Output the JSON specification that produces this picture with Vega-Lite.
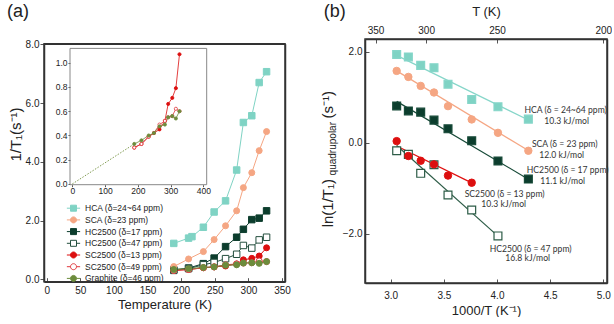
{
"$schema":"https://vega.github.io/schema/vega-lite/v6.json",
"padding":{"left":7,"top":2,"right":0,"bottom":0},
"spacing":30,
"config":{"font":"Liberation Sans","view":{"stroke":null},
"axis":{"grid":false,"domain":false,"domainColor":"#333","domainWidth":1.5,"labelFont":"Liberation Sans","labelFontSize":10,"labelColor":"#222","titleFont":"Liberation Sans","titleFontWeight":"normal","titleColor":"#222","tickColor":"#555"}},
"datasets":{
"a":[
{"s":"HCA (δ=24~64 ppm)","T":189,"v":1.22},{"s":"HCA (δ=24~64 ppm)","T":211,"v":1.40},{"s":"HCA (δ=24~64 ppm)","T":216,"v":1.45},{"s":"HCA (δ=24~64 ppm)","T":233,"v":1.77},{"s":"HCA (δ=24~64 ppm)","T":249,"v":2.29},{"s":"HCA (δ=24~64 ppm)","T":266,"v":2.67},{"s":"HCA (δ=24~64 ppm)","T":282.5,"v":3.72},{"s":"HCA (δ=24~64 ppm)","T":292.5,"v":5.34},{"s":"HCA (δ=24~64 ppm)","T":305,"v":5.57},{"s":"HCA (δ=24~64 ppm)","T":316,"v":6.70},{"s":"HCA (δ=24~64 ppm)","T":327,"v":7.07},
{"s":"SCA (δ=23 ppm)","T":189,"v":0.43},{"s":"SCA (δ=23 ppm)","T":211,"v":0.69},{"s":"SCA (δ=23 ppm)","T":233,"v":0.94},{"s":"SCA (δ=23 ppm)","T":249,"v":1.35},{"s":"SCA (δ=23 ppm)","T":266,"v":1.82},{"s":"SCA (δ=23 ppm)","T":282.5,"v":2.33},{"s":"SCA (δ=23 ppm)","T":292.5,"v":3.12},{"s":"SCA (δ=23 ppm)","T":305,"v":3.63},{"s":"SCA (δ=23 ppm)","T":316,"v":4.38},{"s":"SCA (δ=23 ppm)","T":327,"v":5.03},
{"s":"HC2500 (δ=17 ppm)","T":189,"v":0.32},{"s":"HC2500 (δ=17 ppm)","T":211,"v":0.38},{"s":"HC2500 (δ=17 ppm)","T":233,"v":0.53},{"s":"HC2500 (δ=17 ppm)","T":249,"v":0.72},{"s":"HC2500 (δ=17 ppm)","T":266,"v":1.11},{"s":"HC2500 (δ=17 ppm)","T":282.5,"v":1.43},{"s":"HC2500 (δ=17 ppm)","T":292.5,"v":1.70},{"s":"HC2500 (δ=17 ppm)","T":305,"v":2.03},{"s":"HC2500 (δ=17 ppm)","T":316,"v":2.08},{"s":"HC2500 (δ=17 ppm)","T":327,"v":2.33},
{"s":"HC2500 (δ=47 ppm)","T":189,"v":0.30},{"s":"HC2500 (δ=47 ppm)","T":211,"v":0.36},{"s":"HC2500 (δ=47 ppm)","T":233,"v":0.49},{"s":"HC2500 (δ=47 ppm)","T":249,"v":0.57},{"s":"HC2500 (δ=47 ppm)","T":266,"v":0.70},{"s":"HC2500 (δ=47 ppm)","T":282.5,"v":0.85},{"s":"HC2500 (δ=47 ppm)","T":292.5,"v":1.15},{"s":"HC2500 (δ=47 ppm)","T":305,"v":1.06},{"s":"HC2500 (δ=47 ppm)","T":316,"v":1.34},{"s":"HC2500 (δ=47 ppm)","T":327,"v":1.43},
{"s":"SC2500 (δ=13 ppm)","T":189,"v":0.30},{"s":"SC2500 (δ=13 ppm)","T":211,"v":0.33},{"s":"SC2500 (δ=13 ppm)","T":233,"v":0.39},{"s":"SC2500 (δ=13 ppm)","T":249,"v":0.42},{"s":"SC2500 (δ=13 ppm)","T":266,"v":0.45},{"s":"SC2500 (δ=13 ppm)","T":282.5,"v":0.52},{"s":"SC2500 (δ=13 ppm)","T":292.5,"v":0.66},{"s":"SC2500 (δ=13 ppm)","T":305,"v":0.71},{"s":"SC2500 (δ=13 ppm)","T":316,"v":0.79},{"s":"SC2500 (δ=13 ppm)","T":327,"v":1.07},
{"s":"SC2500 (δ=49 ppm)","T":189,"v":0.30},{"s":"SC2500 (δ=49 ppm)","T":211,"v":0.33},{"s":"SC2500 (δ=49 ppm)","T":233,"v":0.39},{"s":"SC2500 (δ=49 ppm)","T":249,"v":0.42},{"s":"SC2500 (δ=49 ppm)","T":266,"v":0.49},{"s":"SC2500 (δ=49 ppm)","T":282.5,"v":0.52},{"s":"SC2500 (δ=49 ppm)","T":292.5,"v":0.55},{"s":"SC2500 (δ=49 ppm)","T":305,"v":0.56},{"s":"SC2500 (δ=49 ppm)","T":316,"v":0.62},{"s":"SC2500 (δ=49 ppm)","T":327,"v":0.60},
{"s":"Graphite (δ=46 ppm)","T":189,"v":0.33},{"s":"Graphite (δ=46 ppm)","T":211,"v":0.36},{"s":"Graphite (δ=46 ppm)","T":233,"v":0.40},{"s":"Graphite (δ=46 ppm)","T":249,"v":0.42},{"s":"Graphite (δ=46 ppm)","T":266,"v":0.475},{"s":"Graphite (δ=46 ppm)","T":282.5,"v":0.49},{"s":"Graphite (δ=46 ppm)","T":292.5,"v":0.55},{"s":"Graphite (δ=46 ppm)","T":305,"v":0.56},{"s":"Graphite (δ=46 ppm)","T":316,"v":0.54},{"s":"Graphite (δ=46 ppm)","T":327,"v":0.60}
],
"b":[
{"s":"HCA","x":3.056,"y":1.94},{"s":"HCA","x":3.166,"y":1.886},{"s":"HCA","x":3.282,"y":1.70},{"s":"HCA","x":3.407,"y":1.65},{"s":"HCA","x":3.539,"y":1.287},{"s":"HCA","x":3.762,"y":0.95},{"s":"HCA","x":4.009,"y":0.79},{"s":"HCA","x":4.295,"y":0.52},
{"s":"SCA","x":3.056,"y":1.579},{"s":"SCA","x":3.166,"y":1.447},{"s":"SCA","x":3.282,"y":1.25},{"s":"SCA","x":3.407,"y":1.105},{"s":"SCA","x":3.539,"y":0.805},{"s":"SCA","x":3.762,"y":0.513},{"s":"SCA","x":4.009,"y":0.219},{"s":"SCA","x":4.295,"y":-0.175},
{"s":"HC2500 (17)","x":3.056,"y":0.81},{"s":"HC2500 (17)","x":3.166,"y":0.70},{"s":"HC2500 (17)","x":3.282,"y":0.673},{"s":"HC2500 (17)","x":3.407,"y":0.498},{"s":"HC2500 (17)","x":3.539,"y":0.307},{"s":"HC2500 (17)","x":3.762,"y":0.044},{"s":"HC2500 (17)","x":4.009,"y":-0.40},{"s":"HC2500 (17)","x":4.295,"y":-0.797},
{"s":"HC2500 (47)","x":3.056,"y":-0.175},{"s":"HC2500 (47)","x":3.166,"y":-0.254},{"s":"HC2500 (47)","x":3.282,"y":-0.671},{"s":"HC2500 (47)","x":3.407,"y":-0.482},{"s":"HC2500 (47)","x":3.539,"y":-1.147},{"s":"HC2500 (47)","x":3.762,"y":-1.476},{"s":"HC2500 (47)","x":4.009,"y":-2.046},
{"s":"SC2500 (13)","x":3.056,"y":0.037},{"s":"SC2500 (13)","x":3.166,"y":-0.29},{"s":"SC2500 (13)","x":3.282,"y":-0.395},{"s":"SC2500 (13)","x":3.407,"y":-0.474},{"s":"SC2500 (13)","x":3.539,"y":-0.72},{"s":"SC2500 (13)","x":3.762,"y":-0.877}
],
"bfit":[
{"s":"HCA","x":3.056,"y":1.92},{"s":"HCA","x":4.295,"y":0.50},
{"s":"SCA","x":3.056,"y":1.58},{"s":"SCA","x":4.295,"y":-0.17},
{"s":"HC2500 (17)","x":3.056,"y":0.91},{"s":"HC2500 (17)","x":4.295,"y":-0.80},
{"s":"SC2500 (13)","x":3.056,"y":-0.07},{"s":"SC2500 (13)","x":3.762,"y":-0.88},
{"s":"HC2500 (47)","x":3.056,"y":-0.06},{"s":"HC2500 (47)","x":4.009,"y":-2.05}
],
"bann":[
{"label":"HCA (δ = 24~64 ppm)","x":4.646,"y":0.730},{"label":"10.3 kJ/mol","x":4.655,"y":0.488},
{"label":"SCA (δ = 23 ppm)","x":4.637,"y":-0.023},{"label":"12.0 kJ/mol","x":4.609,"y":-0.264},
{"label":"HC2500 (δ = 17 ppm)","x":4.665,"y":-0.608},{"label":"11.1 kJ/mol","x":4.618,"y":-0.843},
{"label":"SC2500 (δ = 13 ppm)","x":4.072,"y":-1.119},{"label":"10.3 kJ/mol","x":4.063,"y":-1.354},
{"label":"HC2500 (δ = 47 ppm)","x":4.317,"y":-2.325},{"label":"16.8 kJ/mol","x":4.289,"y":-2.531}
]
},
"resolve":{"scale":{"fill":"independent","stroke":"independent","shape":"independent"},"legend":{"fill":"independent","stroke":"independent","shape":"independent"}},
"hconcat":[
{
"width":241,"height":242.7,
"resolve":{"scale":{"x":"independent","y":"independent"},"axis":{"x":"independent","y":"independent"}},
"layer":[
{
"data":{"name":"a"},
"encoding":{
"x":{"field":"T","type":"quantitative","scale":{"domain":[-4,354.4],"nice":false,"zero":false},"axis":{"orient":"bottom","domain":true,"values":[0,50,100,150,200,250,300,350],"format":"d","tickSize":-4,"labelPadding":8,"title":"Temperature (K)","titleFontSize":13,"titlePadding":3}},
"y":{"field":"v","type":"quantitative","scale":{"domain":[-0.085,8.024],"range":[242.7,4.7],"nice":false,"zero":false},"axis":{"orient":"left","domain":true,"values":[0,2,4,6,8],"format":".1f","tickSize":4,"labelPadding":1,"title":"1/T₁(s⁻¹)","titleFontSize":15,"titlePadding":2,"titleY":95}}
},
"layer":[
{"mark":{"type":"point","filled":true,"opacity":0,"strokeWidth":1},
"encoding":{
"shape":{"field":"s","type":"nominal","scale":{"domain":["HCA (δ=24~64 ppm)","SCA (δ=23 ppm)","HC2500 (δ=17 ppm)","HC2500 (δ=47 ppm)","SC2500 (δ=13 ppm)","SC2500 (δ=49 ppm)","Graphite (δ=46 ppm)"],"range":["M-1.66,0H-0.75M0.75,0H1.66M-0.75,-0.75H0.75V0.75H-0.75Z","M-1.66,0H-0.75M0.75,0H1.66M-0.75,0A0.75,0.75,0,1,1,0.75,0A0.75,0.75,0,1,1,-0.75,0Z","M-1.66,0H-0.75M0.75,0H1.66M-0.75,-0.75H0.75V0.75H-0.75Z","M-1.66,0H-0.75M0.75,0H1.66M-0.75,-0.75H0.75V0.75H-0.75Z","M-1.66,0H-0.75M0.75,0H1.66M-0.75,0A0.75,0.75,0,1,1,0.75,0A0.75,0.75,0,1,1,-0.75,0Z","M-1.66,0H-0.75M0.75,0H1.66M-0.75,0A0.75,0.75,0,1,1,0.75,0A0.75,0.75,0,1,1,-0.75,0Z","M-1.66,0H-0.75M0.75,0H1.66M-0.75,0A0.75,0.75,0,1,1,0.75,0A0.75,0.75,0,1,1,-0.75,0Z"]},
"legend":{"orient":"none","legendX":25,"legendY":164.7,"title":null,"labelFontSize":8.5,"labelFont":"Liberation Sans","labelColor":"#222","symbolSize":64,"symbolStrokeWidth":1,"symbolOpacity":1,"rowPadding":0.7,"labelOffset":7,"padding":0}},
"fill":{"field":"s","type":"nominal","scale":{"domain":["HCA (δ=24~64 ppm)","SCA (δ=23 ppm)","HC2500 (δ=17 ppm)","HC2500 (δ=47 ppm)","SC2500 (δ=13 ppm)","SC2500 (δ=49 ppm)","Graphite (δ=46 ppm)"],"range":["#7fd3c4","#f5a683","#0c3d2d","#ffffff","#dc0f0f","#ffffff","#6c8c3c"]},
"legend":{"orient":"none","legendX":25,"legendY":164.7,"title":null,"labelFontSize":8.5,"labelFont":"Liberation Sans","labelColor":"#222","symbolSize":64,"symbolStrokeWidth":1,"symbolOpacity":1,"rowPadding":0.7,"labelOffset":7,"padding":0}},
"stroke":{"field":"s","type":"nominal","scale":{"domain":["HCA (δ=24~64 ppm)","SCA (δ=23 ppm)","HC2500 (δ=17 ppm)","HC2500 (δ=47 ppm)","SC2500 (δ=13 ppm)","SC2500 (δ=49 ppm)","Graphite (δ=46 ppm)"],"range":["#7fd3c4","#f5a683","#0c3d2d","#244f3e","#dc0f0f","#e0393e","#6c8c3c"]},
"legend":{"orient":"none","legendX":25,"legendY":164.7,"title":null,"labelFontSize":8.5,"labelFont":"Liberation Sans","labelColor":"#222","symbolSize":64,"symbolStrokeWidth":1,"symbolOpacity":1,"rowPadding":0.7,"labelOffset":7,"padding":0}}}},
{"mark":{"type":"line","strokeWidth":1},
"encoding":{"stroke":{"field":"s","type":"nominal"}}},
{"transform":[{"filter":{"field":"s","oneOf":["HCA (δ=24~64 ppm)","HC2500 (δ=17 ppm)","HC2500 (δ=47 ppm)"]}}],
"mark":{"type":"point","shape":"square","filled":true,"size":42,"strokeWidth":1,"opacity":1},
"encoding":{"stroke":{"field":"s","type":"nominal"},"fill":{"field":"s","type":"nominal"}}},
{"transform":[{"filter":{"field":"s","oneOf":["SCA (δ=23 ppm)","SC2500 (δ=13 ppm)","SC2500 (δ=49 ppm)","Graphite (δ=46 ppm)"]}}],
"mark":{"type":"point","shape":"circle","filled":true,"size":36,"strokeWidth":1,"opacity":1},
"encoding":{"stroke":{"field":"s","type":"nominal"},"fill":{"field":"s","type":"nominal"}}},
{"data":{"values":[{"label":"(a)","T":-59,"v":9.1}]},
"mark":{"type":"text","align":"left","baseline":"middle","fontSize":18,"font":"Liberation Sans","color":"#222"},
"encoding":{"text":{"field":"label"}}}
]
},
{
"encoding":{
"x":{"field":"T","type":"quantitative","scale":{"domain":[-7,410],"range":[26,162.7],"nice":false,"zero":false},"axis":{"orient":"bottom","offset":-97,"values":[0,100,200,300,400],"format":"d","labelFontSize":8.5,"tickSize":2,"labelPadding":0,"title":null}},
"y":{"field":"v","type":"quantitative","scale":{"domain":[-0.006,1.118],"range":[145.7,9.4],"nice":false,"zero":false},"axis":{"orient":"left","offset":-26,"values":[0,0.2,0.4,0.6,0.8,1.0],"format":".1f","labelFontSize":8.5,"tickSize":2,"labelPadding":1,"title":null}}
},
"layer":[
{"data":{"values":[{"xa":-7,"xb":410,"ya":-0.006,"yb":1.118}]},"mark":{"type":"rect","filled":false,"color":"#888","strokeWidth":1},
"encoding":{"x":{"field":"xa","type":"quantitative","scale":{"domain":[-7,410],"range":[26,162.7],"nice":false,"zero":false},"axis":{"orient":"bottom","offset":-97,"values":[0,100,200,300,400],"format":"d","labelFontSize":8.5,"tickSize":2,"labelPadding":0,"title":null}},"x2":{"field":"xb"},
"y":{"field":"ya","type":"quantitative","scale":{"domain":[-0.006,1.118],"range":[145.7,9.4],"nice":false,"zero":false},"axis":{"orient":"left","offset":-26,"values":[0,0.2,0.4,0.6,0.8,1.0],"format":".1f","labelFontSize":8.5,"tickSize":2,"labelPadding":1,"title":null}},"y2":{"field":"yb"}}},
{"data":{"values":[{"T":0,"v":0},{"T":189,"v":0.33}]},"mark":{"type":"line","stroke":"#7f9a50","strokeWidth":1,"strokeDash":[1.5,1.5]}},
{"data":{"name":"a"},"transform":[{"filter":{"field":"s","oneOf":["SC2500 (δ=13 ppm)","SC2500 (δ=49 ppm)","Graphite (δ=46 ppm)"]}}],
"mark":{"type":"line","strokeWidth":0.8},"encoding":{"stroke":{"field":"s","type":"nominal","legend":null}}},
{"data":{"name":"a"},"transform":[{"filter":{"field":"s","oneOf":["SC2500 (δ=13 ppm)","SC2500 (δ=49 ppm)","Graphite (δ=46 ppm)"]}}],
"mark":{"type":"point","shape":"circle","filled":true,"size":10,"strokeWidth":0.8,"opacity":1},"encoding":{"stroke":{"field":"s","type":"nominal","legend":null},"fill":{"field":"s","type":"nominal","legend":null}}}
]
},
{
"data":{"values":[{"xa":-4,"xb":354.4,"ya":-0.085,"yb":8.024}]},
"mark":{"type":"rect","filled":false,"color":"#333","strokeWidth":1.5},
"encoding":{
"x":{"field":"xa","type":"quantitative","scale":{"domain":[-4,354.4],"range":[0,241],"nice":false,"zero":false},"axis":{"orient":"top","offset":-4.7,"domain":true,"ticks":false,"labels":false,"title":null}},
"x2":{"field":"xb"},
"y":{"field":"ya","type":"quantitative","scale":{"domain":[-0.085,8.024],"range":[242.7,4.7],"nice":false,"zero":false},"axis":{"orient":"right","domain":true,"ticks":false,"labels":false,"title":null}},
"y2":{"field":"yb"}
}
}
]
},
{
"width":242,"height":244,
"resolve":{"scale":{"x":"independent","y":"independent"},"axis":{"x":"independent","y":"independent"}},
"layer":[
{
"encoding":{
"x":{"field":"x","type":"quantitative","scale":{"domain":[2.758,5.035],"nice":false,"zero":false},"axis":{"orient":"bottom","domain":true,"values":[3,3.5,4,4.5,5],"format":".1f","tickSize":-4,"labelPadding":11,"title":"1000/T (K⁻¹)","titleFontSize":13,"titlePadding":4}},
"y":{"field":"y","type":"quantitative","scale":{"domain":[-3.08,2.28],"nice":false,"zero":false},"axis":{"orient":"left","domain":true,"values":[-2,0,2],"format":".1f","tickSize":-4,"labelPadding":7,"title":null}}
},
"layer":[
{"data":{"name":"bfit"},"mark":{"type":"line","strokeWidth":1.2},
"encoding":{"stroke":{"field":"s","type":"nominal","scale":{"domain":["HCA","SCA","HC2500 (17)","SC2500 (13)","HC2500 (47)"],"range":["#86d6c9","#f5a683","#174a38","#e01010","#2d5c47"]},"legend":null}}},
{"data":{"name":"b"},"transform":[{"filter":{"field":"s","oneOf":["HCA","HC2500 (17)","HC2500 (47)"]}}],
"mark":{"type":"point","shape":"square","filled":true,"size":62,"strokeWidth":1.2,"opacity":1},
"encoding":{"stroke":{"field":"s","type":"nominal","scale":{"domain":["HCA","SCA","HC2500 (17)","SC2500 (13)","HC2500 (47)"],"range":["#7fd3c4","#f5a683","#0c3d2d","#dc0f0f","#244f3e"]},"legend":null},
"fill":{"field":"s","type":"nominal","scale":{"domain":["HCA","SCA","HC2500 (17)","SC2500 (13)","HC2500 (47)"],"range":["#7fd3c4","#f5a683","#0c3d2d","#dc0f0f","#ffffff"]},"legend":null}}},
{"data":{"name":"b"},"transform":[{"filter":{"field":"s","oneOf":["SCA","SC2500 (13)"]}}],
"mark":{"type":"point","shape":"circle","filled":true,"size":55,"strokeWidth":1,"opacity":1},
"encoding":{"stroke":{"field":"s","type":"nominal","legend":null},"fill":{"field":"s","type":"nominal","legend":null}}},
{"data":{"name":"bann"},"mark":{"type":"text","align":"center","baseline":"middle","fontSize":8.6,"font":"Lato","color":"#333"},
"encoding":{"text":{"field":"label"}}},
{"data":{"values":[{"label":"ln(1/T₁)","x":2.412,"y":-1.858},{"label":"(s⁻¹)","x":2.412,"y":0.532}]},
"mark":{"type":"text","align":"left","baseline":"middle","angle":270,"fontSize":15,"font":"Liberation Sans","color":"#222"},
"encoding":{"text":{"field":"label"}}},
{"data":{"values":[{"label":"quadrupolar","x":2.454,"y":-0.716}]},
"mark":{"type":"text","align":"left","baseline":"middle","angle":270,"fontSize":10,"font":"Liberation Sans","color":"#222"},
"encoding":{"text":{"field":"label"}}},
{"data":{"values":[{"label":"(b)","x":2.369,"y":2.879}]},
"mark":{"type":"text","align":"left","baseline":"middle","fontSize":18,"font":"Liberation Sans","color":"#222"},
"encoding":{"text":{"field":"label"}}}
]
},
{
"data":{"values":[{"xa":2.758,"xb":5.035,"ya":-3.08,"yb":2.28}]},
"mark":{"type":"rect","filled":false,"color":"#333","strokeWidth":1.5},
"encoding":{
"x":{"field":"xa","type":"quantitative","scale":{"domain":[2.758,5.035],"range":[0,242],"nice":false,"zero":false},"axis":{"orient":"top","domain":true,"values":[2.857142857,3.333333333,4,5],"labelExpr":"format(1000/datum.value,'.0f')","tickSize":-4,"labelPadding":7.5,"title":"T (K)","titleFontSize":13,"titlePadding":7}},
"x2":{"field":"xb"},
"y":{"field":"ya","type":"quantitative","scale":{"domain":[-3.08,2.28],"range":[244,0],"nice":false,"zero":false},"axis":{"orient":"right","domain":true,"ticks":false,"labels":false,"title":null}},
"y2":{"field":"yb"}
}
}
]
}
]
}
